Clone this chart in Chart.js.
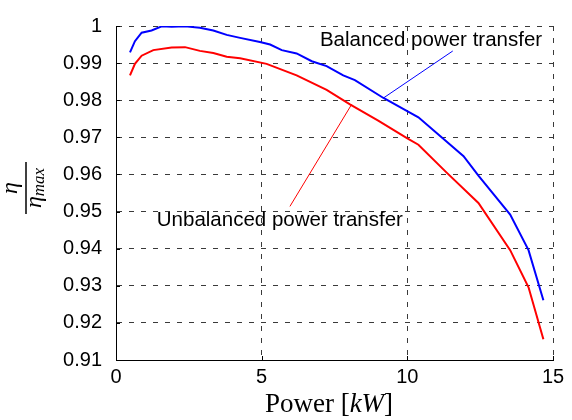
<!DOCTYPE html>
<html lang="en">
<head>
    <meta charset="UTF-8">
    <title>Normalized efficiency vs power</title>
    <script src="https://cdn.jsdelivr.net/npm/chart.js"></script>
    <style>
        html, body {
            margin: 0;
            padding: 0;
            background: #ffffff;
        }
        #wrap {
            width: 572px;
            height: 420px;
        }
    </style>
</head>
<body>
    <div id="wrap"><canvas id="chart" width="572" height="420"></canvas></div>

    <script>
        // values
        const powerBalanced = [0.48, 0.65, 0.88, 1.22, 1.57, 1.91, 2.37, 2.88, 3.34, 3.80, 4.26, 4.94, 5.29, 5.69, 6.20, 6.72, 7.23, 7.80, 8.20, 9.18, 9.98, 10.38, 11.93, 12.44, 13.53, 14.16, 14.67];
        const etaBalanced = [0.9929, 0.9959, 0.9982, 0.9988, 0.9999, 0.9998, 0.9999, 0.9995, 0.9988, 0.9976, 0.9968, 0.9957, 0.9950, 0.9935, 0.9926, 0.9905, 0.9892, 0.9867, 0.9854, 0.9806, 0.9771, 0.9754, 0.9649, 0.9597, 0.9492, 0.9396, 0.9261];

        const powerUnbalanced = [0.48, 0.65, 0.88, 1.28, 1.91, 2.37, 2.88, 3.34, 3.80, 4.26, 5.17, 6.20, 7.23, 8.03, 9.00, 10.00, 10.38, 11.35, 12.44, 13.53, 14.16, 14.67];
        const etaUnbalanced = [0.9867, 0.9898, 0.9920, 0.9935, 0.9942, 0.9943, 0.9933, 0.9927, 0.9917, 0.9913, 0.9898, 0.9867, 0.9828, 0.9789, 0.9745, 0.9697, 0.9680, 0.9605, 0.9523, 0.9396, 0.9296, 0.9156];

        const xTicks = [0, 5, 10, 15];
        const yTicks = [0.91, 0.92, 0.93, 0.94, 0.95, 0.96, 0.97, 0.98, 0.99, 1];

        // text labels with their arrows, in data units
        const notes = [
            { text: 'Balanced power transfer', x: 7.0, y: 0.99458, from: [11.56, 0.99327], to: [9.18, 0.9806], color: '#0000ff' },
            { text: 'Unbalanced power transfer', x: 1.40, y: 0.94615, from: [5.97, 0.95139], to: [8.09, 0.9789], color: '#ff0000' }
        ];

        const sans = '"Liberation Sans", Arial, Helvetica, sans-serif';
        const serif = '"Liberation Serif", "Times New Roman", serif';

        function toPoints(xs, ys) {
            return xs.map((x, i) => ({ x: x, y: ys[i] }));
        }

        const extras = {
            id: 'extras',
            afterDraw(chart) {
                const ctx = chart.ctx;
                const xs = chart.scales.x;
                const ys = chart.scales.y;
                const area = chart.chartArea;

                ctx.save();
                // inward tick marks
                ctx.strokeStyle = '#000';
                ctx.lineWidth = 1;
                ctx.beginPath();
                yTicks.forEach(v => {
                    const py = Math.round(ys.getPixelForValue(v)) + 0.5;
                    ctx.moveTo(area.left, py);
                    ctx.lineTo(area.left + 4, py);
                });
                xTicks.forEach(v => {
                    const px = Math.round(xs.getPixelForValue(v)) + 0.5;
                    ctx.moveTo(px, area.bottom);
                    ctx.lineTo(px, area.bottom - 4);
                });
                ctx.stroke();

                // annotations
                notes.forEach(n => {
                    ctx.strokeStyle = n.color;
                    ctx.lineWidth = 1;
                    ctx.beginPath();
                    ctx.moveTo(xs.getPixelForValue(n.from[0]), ys.getPixelForValue(n.from[1]));
                    ctx.lineTo(xs.getPixelForValue(n.to[0]), ys.getPixelForValue(n.to[1]));
                    ctx.stroke();
                    ctx.fillStyle = '#000';
                    ctx.font = '20.5px ' + sans;
                    ctx.textAlign = 'left';
                    ctx.textBaseline = 'alphabetic';
                    ctx.fillText(n.text, xs.getPixelForValue(n.x), ys.getPixelForValue(n.y));
                });

                // x axis title: Power [kW]
                ctx.fillStyle = '#000';
                ctx.textBaseline = 'alphabetic';
                const cx = 329;
                const base = 412;
                const parts = [
                    { t: 'Power [', f: '27px ' + serif },
                    { t: 'kW', f: 'italic 27px ' + serif },
                    { t: ']', f: '27px ' + serif }
                ];
                let total = 0;
                parts.forEach(p => { ctx.font = p.f; p.w = ctx.measureText(p.t).width; total += p.w; });
                let px = cx - total / 2;
                ctx.textAlign = 'left';
                parts.forEach(p => { ctx.font = p.f; ctx.fillText(p.t, px, base); px += p.w; });

                // y axis title: eta / eta_max, rotated
                ctx.translate(26, 188);
                ctx.rotate(-Math.PI / 2);
                ctx.strokeStyle = '#000';
                ctx.lineWidth = 1.5;
                ctx.beginPath();
                ctx.moveTo(-26, 0);
                ctx.lineTo(26, 0);
                ctx.stroke();
                ctx.textAlign = 'center';
                ctx.font = 'italic 24px ' + serif;
                ctx.fillText('\u03b7', 0, -9);
                ctx.textAlign = 'left';
                const ew = ctx.measureText('\u03b7').width;
                ctx.font = 'italic 17px ' + serif;
                const mw = ctx.measureText('max').width;
                const start = -(ew + mw) / 2;
                ctx.font = 'italic 24px ' + serif;
                ctx.fillText('\u03b7', start, 15);
                ctx.font = 'italic 17px ' + serif;
                ctx.fillText('max', start + ew, 18);
                ctx.restore();
            }
        };

        const ctx = document.getElementById('chart').getContext('2d');
        const chart = new Chart(ctx, {
            type: 'scatter',
            data: {
                datasets: [
                    {
                        label: 'Balanced power transfer',
                        data: toPoints(powerBalanced, etaBalanced),
                        showLine: true,
                        borderColor: '#0000ff',
                        borderWidth: 2,
                        pointRadius: 0,
                        tension: 0,
                        fill: false
                    },
                    {
                        label: 'Unbalanced power transfer',
                        data: toPoints(powerUnbalanced, etaUnbalanced),
                        showLine: true,
                        borderColor: '#ff0000',
                        borderWidth: 2,
                        pointRadius: 0,
                        tension: 0,
                        fill: false
                    }
                ]
            },
            options: {
                responsive: false,
                animation: false,
                layout: {
                    padding: { left: 0, right: 19, top: 16, bottom: 0 }
                },
                plugins: {
                    legend: { display: false },
                    tooltip: { enabled: false }
                },
                scales: {
                    x: {
                        type: 'linear',
                        min: 0,
                        max: 15,
                        afterFit(scale) { scale.height = 60; },
                        afterBuildTicks(scale) { scale.ticks = xTicks.map(v => ({ value: v })); },
                        ticks: {
                            color: '#000',
                            padding: 5,
                            font: { family: sans, size: 20 },
                            callback: v => String(v)
                        },
                        grid: {
                            color: '#3a3a3a',
                            lineWidth: 1,
                            drawTicks: false
                        },
                        border: { display: true, color: '#000', width: 1, dash: [5, 7] }
                    },
                    y: {
                        type: 'linear',
                        min: 0.91,
                        max: 1,
                        afterFit(scale) { scale.width = 116; },
                        afterBuildTicks(scale) { scale.ticks = yTicks.map(v => ({ value: v })); },
                        ticks: {
                            color: '#000',
                            padding: 14,
                            font: { family: sans, size: 20 },
                            callback: v => String(+v.toFixed(2))
                        },
                        grid: {
                            color: '#3a3a3a',
                            lineWidth: 1,
                            drawTicks: false
                        },
                        border: { display: true, color: '#000', width: 1, dash: [5, 7] }
                    }
                }
            },
            plugins: [extras]
        });
    </script>
</body>
</html>
